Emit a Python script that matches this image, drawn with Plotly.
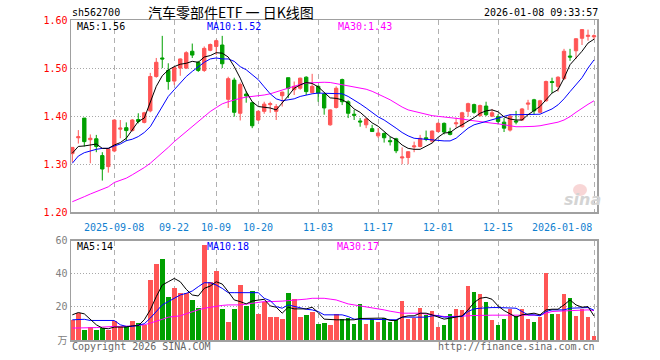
import plotly.graph_objects as go

# ---------------- data ----------------
tick_idx = [7, 17, 24, 31, 41, 51, 61, 71, 87]
tick_text = ["2025-09-08", "09-22", "10-09", "10-20", "11-03", "11-17", "12-01", "12-15", "2026-01-08"]

opens = [1.322, 1.355, 1.396, 1.351, 1.353, 1.318, 1.295, 1.3275, 1.373, 1.376,
         1.370, 1.393, 1.387, 1.411, 1.4825, 1.521, 1.495, 1.473, 1.500, 1.500,
         1.535, 1.512, 1.495, 1.537, 1.545, 1.548, 1.435, 1.475, 1.406, 1.446,
         1.428, 1.392, 1.410, 1.424, 1.410, 1.4425, 1.480, 1.455, 1.458, 1.481,
         1.449, 1.462, 1.446, 1.382, 1.418, 1.476, 1.430, 1.404, 1.390, 1.382,
         1.374, 1.359, 1.364, 1.349, 1.353, 1.313, 1.314, 1.336, 1.337, 1.355,
         1.348, 1.368, 1.385, 1.368, 1.384, 1.378, 1.410, 1.424, 1.401, 1.421,
         1.400, 1.399, 1.3875, 1.371, 1.390, 1.392, 1.425, 1.434, 1.408, 1.432,
         1.472, 1.462, 1.478, 1.525, 1.536, 1.562, 1.566, 1.565]
highs = [1.335, 1.371, 1.396, 1.362, 1.361, 1.325, 1.332, 1.392, 1.392, 1.387,
         1.394, 1.406, 1.409, 1.490, 1.521, 1.567, 1.510, 1.503, 1.520, 1.535,
         1.551, 1.515, 1.545, 1.551, 1.559, 1.567, 1.482, 1.480, 1.470, 1.452,
         1.430, 1.412, 1.430, 1.430, 1.425, 1.451, 1.480, 1.472, 1.480, 1.483,
         1.488, 1.464, 1.448, 1.414, 1.462, 1.478, 1.433, 1.413, 1.396, 1.396,
         1.382, 1.375, 1.366, 1.357, 1.355, 1.335, 1.327, 1.347, 1.361, 1.370,
         1.370, 1.387, 1.387, 1.376, 1.397, 1.409, 1.428, 1.426, 1.424, 1.430,
         1.415, 1.404, 1.396, 1.404, 1.411, 1.417, 1.434, 1.436, 1.434, 1.474,
         1.480, 1.483, 1.540, 1.540, 1.562, 1.581, 1.580, 1.570]
lows = [1.304, 1.343, 1.337, 1.302, 1.325, 1.266, 1.2825, 1.325, 1.354, 1.348,
        1.368, 1.385, 1.385, 1.408, 1.480, 1.500, 1.455, 1.465, 1.484, 1.498,
        1.521, 1.492, 1.492, 1.535, 1.527, 1.500, 1.417, 1.399, 1.391, 1.428,
        1.375, 1.390, 1.405, 1.407, 1.392, 1.420, 1.4375, 1.444, 1.455, 1.444,
        1.447, 1.430, 1.403, 1.380, 1.416, 1.423, 1.396, 1.392, 1.378, 1.375,
        1.367, 1.355, 1.345, 1.339, 1.323, 1.300, 1.300, 1.325, 1.335, 1.348,
        1.345, 1.366, 1.362, 1.360, 1.376, 1.376, 1.399, 1.405, 1.399, 1.400,
        1.398, 1.383, 1.367, 1.368, 1.383, 1.390, 1.413, 1.404, 1.406, 1.430,
        1.448, 1.451, 1.475, 1.515, 1.519, 1.548, 1.557, 1.560]
closes = [1.335, 1.357, 1.347, 1.354, 1.337, 1.290, 1.332, 1.392, 1.375, 1.370,
          1.392, 1.389, 1.407, 1.4825, 1.512, 1.519, 1.472, 1.501, 1.519, 1.532,
          1.527, 1.495, 1.541, 1.549, 1.557, 1.509, 1.478, 1.408, 1.466, 1.442,
          1.380, 1.410, 1.425, 1.426, 1.420, 1.450, 1.458, 1.462, 1.479, 1.451,
          1.462, 1.448, 1.417, 1.413, 1.458, 1.430, 1.406, 1.402, 1.388, 1.394,
          1.368, 1.365, 1.355, 1.347, 1.328, 1.315, 1.326, 1.338, 1.354, 1.352,
          1.369, 1.385, 1.367, 1.362, 1.386, 1.407, 1.426, 1.408, 1.422, 1.403,
          1.407, 1.389, 1.375, 1.400, 1.388, 1.415, 1.427, 1.411, 1.432, 1.472,
          1.470, 1.481, 1.535, 1.523, 1.561, 1.580, 1.568, 1.567]

ma5 = [1.323, 1.337, 1.338, 1.340, 1.342, 1.333, 1.333, 1.340, 1.345, 1.354,
       1.371, 1.389, 1.396, 1.427, 1.462, 1.484, 1.496, 1.503, 1.508, 1.510,
       1.514, 1.512, 1.523, 1.526, 1.532, 1.531, 1.523, 1.503, 1.479, 1.451,
       1.430, 1.420, 1.419, 1.417, 1.413, 1.427, 1.442, 1.458, 1.465, 1.470,
       1.468, 1.461, 1.450, 1.438, 1.437, 1.434, 1.427, 1.415, 1.408, 1.396,
       1.386, 1.379, 1.368, 1.3575, 1.351, 1.340, 1.333, 1.331, 1.331, 1.337,
       1.344, 1.356, 1.365, 1.366, 1.375, 1.382, 1.389, 1.397, 1.406, 1.411,
       1.413, 1.409, 1.3985, 1.394, 1.392, 1.392, 1.403, 1.411, 1.420, 1.434,
       1.448, 1.455, 1.479, 1.507, 1.521, 1.535, 1.552, 1.560]
ma10 = [1.302, 1.317, 1.324, 1.328, 1.331, 1.333, 1.333, 1.338, 1.342, 1.349,
        1.352, 1.3575, 1.366, 1.378, 1.399, 1.4215, 1.441, 1.455, 1.469, 1.4825,
        1.493, 1.503, 1.512, 1.519, 1.521, 1.519, 1.519, 1.514, 1.503, 1.4965,
        1.486, 1.476, 1.461, 1.4465, 1.436, 1.432, 1.434, 1.436, 1.441, 1.444,
        1.4465, 1.448, 1.448, 1.448, 1.4475, 1.4465, 1.441, 1.434, 1.4256, 1.417,
        1.407, 1.3985, 1.392, 1.384, 1.375, 1.366, 1.359, 1.354, 1.353, 1.351,
        1.351, 1.349, 1.3485, 1.3485, 1.354, 1.3646, 1.375, 1.382, 1.3854, 1.389,
        1.392, 1.396, 1.399, 1.403, 1.403, 1.403, 1.403, 1.403, 1.404, 1.4096,
        1.415, 1.4235, 1.436, 1.451, 1.4667, 1.480, 1.500, 1.517]
ma30 = [1.222, 1.228, 1.2325, 1.238, 1.243, 1.2485, 1.253, 1.262, 1.266, 1.271,
        1.278, 1.285, 1.293, 1.302, 1.3125, 1.323, 1.335, 1.347, 1.3575, 1.368,
        1.378, 1.389, 1.399, 1.4096, 1.4177, 1.4256, 1.430, 1.434, 1.437, 1.4396,
        1.441, 1.442, 1.444, 1.4465, 1.4506, 1.455, 1.459, 1.463, 1.466, 1.469,
        1.470, 1.471, 1.4705, 1.470, 1.4677, 1.465, 1.4635, 1.4617, 1.459, 1.456,
        1.4517, 1.4465, 1.440, 1.434, 1.4256, 1.419, 1.413, 1.410, 1.406, 1.404,
        1.401, 1.3996, 1.3985, 1.3975, 1.396, 1.394, 1.392, 1.390, 1.389, 1.3875,
        1.3854, 1.384, 1.382, 1.380, 1.378, 1.378, 1.378, 1.3788, 1.380, 1.382,
        1.3846, 1.3875, 1.392, 1.399, 1.408, 1.4167, 1.4246, 1.432]

volume = [12.2, 16.2, 6.2, 7.8, 5.8, 7.2, 6.2, 11.2, 7.8, 8.6,
          11.2, 10.2, 9.2, 36.2, 45.8, 48.8, 26.2, 31.6, 28.2, 28.2,
          24.2, 19.6, 57.2, 34.8, 41.6, 18.8, 10.6, 18.8, 33.2, 20.6,
          29.6, 15.8, 23.2, 13.8, 13.8, 12.8, 28.6, 24.6, 13.8, 15.2,
          17.2, 9.8, 10.2, 9.2, 15.6, 12.6, 13.2, 9.8, 21.8, 9.8,
          12.6, 10.6, 13.2, 10.6, 12.2, 23.6, 12.6, 13.0, 19.6, 15.2,
          17.6, 7.6, 9.2, 15.8, 18.8, 18.2, 32.6, 29.0, 27.8, 23.2,
          12.2, 9.2, 12.8, 18.8, 14.6, 18.8, 12.8, 11.0, 13.6, 40.6,
          16.0, 15.8, 27.8, 25.4, 14.6, 18.8, 13.6, 2.2]
vma5 = [15.2, 16.6, 15.8, 12.6, 9.2, 7.2, 6.8, 7.8, 7.8, 7.8,
        8.6, 8.6, 12.2, 18.2, 26.2, 33.2, 35.2, 37.2, 35.2, 30.6,
        27.2, 26.6, 31.2, 32.6, 35.2, 33.8, 29.2, 24.2, 23.2, 21.8,
        23.6, 24.2, 24.6, 20.6, 19.8, 16.2, 19.8, 18.8, 18.8, 18.8,
        19.8, 16.6, 12.6, 12.2, 12.2, 12.2, 12.2, 12.2, 13.0, 13.2,
        13.2, 13.2, 13.2, 11.8, 11.8, 13.8, 14.6, 14.6, 16.2, 16.2,
        15.2, 13.8, 12.6, 13.2, 13.8, 14.6, 18.2, 22.6, 25.2, 25.8,
        24.6, 20.6, 17.8, 15.8, 13.8, 15.2, 15.8, 16.2, 15.2, 18.2,
        18.6, 18.6, 21.2, 24.2, 21.2, 19.8, 20.2, 14.5]
vma10 = [12.2, 12.5, 12.5, 11.8, 11.8, 11.8, 12.2, 11.8, 9.2, 8.2,
         8.2, 8.8, 9.8, 13.2, 17.2, 21.2, 23.2, 25.2, 27.2, 28.2,
         29.6, 32.2, 34.6, 34.6, 33.2, 31.2, 28.6, 28.6, 28.6, 28.6,
         28.6, 28.6, 25.2, 23.8, 20.2, 19.2, 21.2, 20.2, 19.2, 18.6,
         18.2, 17.2, 15.2, 15.2, 15.2, 15.2, 14.2, 12.6, 12.6, 12.6,
         12.6, 12.6, 12.6, 12.6, 12.2, 13.8, 13.8, 13.8, 13.8, 13.8,
         14.6, 14.6, 13.8, 13.8, 13.8, 14.2, 17.2, 18.8, 19.2, 19.6,
         19.6, 19.6, 19.6, 19.6, 19.2, 17.2, 15.2, 15.2, 14.6, 17.2,
         18.2, 18.2, 18.2, 19.2, 19.2, 19.6, 19.6, 18.0]
vma30 = [7.2, 7.2, 7.2, 7.2, 7.5, 7.8, 8.2, 8.2, 8.2, 8.2,
         8.5, 8.9, 9.2, 10.2, 11.2, 12.5, 13.8, 14.2, 14.6, 15.9,
         17.2, 18.2, 19.2, 19.9, 20.6, 20.9, 21.2, 21.2, 21.2, 21.7,
         22.2, 22.7, 23.2, 23.2, 23.2, 23.5, 23.8, 24.0, 24.2, 24.7,
         25.2, 25.2, 25.2, 24.7, 24.2, 23.0, 21.8, 21.2, 20.6, 20.2,
         19.8, 19.0, 18.2, 17.4, 16.6, 16.2, 16.2, 16.2, 16.2, 15.7,
         15.2, 14.7, 14.2, 14.2, 14.2, 14.4, 14.6, 14.8, 15.0, 15.0,
         15.0, 15.0, 15.0, 15.0, 15.0, 15.0, 15.0, 15.0, 15.0, 16.2,
         17.2, 17.4, 17.6, 17.7, 17.8, 18.0, 18.2, 17.8]

price_ticks = [1.20, 1.30, 1.40, 1.50, 1.60]
vol_ticks = [0, 20, 40, 60]
vol_tick_text = ["万", "20", "40", "60"]

# ---------------- styling ----------------
RED = "#ff5555"
GREEN = "#00a000"
MONO = "DejaVu Sans Mono, Noto Sans CJK SC, monospace"
W, H = 660, 360
L, R, T, B = 71, 597, 20, 340


def px(xp):
    return (xp - L) / (R - L)


def py(yp):
    return (B - yp) / (B - T)


x = list(range(len(closes)))
vol_colors = [RED if c >= o else GREEN for o, c in zip(opens, closes)]

fig = go.Figure()
fig.add_trace(go.Candlestick(
    x=x, open=opens, high=highs, low=lows, close=closes,
    increasing=dict(line=dict(color=RED, width=1), fillcolor=RED),
    decreasing=dict(line=dict(color=GREEN, width=1), fillcolor=GREEN),
    whiskerwidth=0, xaxis="x", yaxis="y", showlegend=False, hoverinfo="skip"))
for vals, col in [(ma30, "#ff00ff"), (ma10, "#0000ff"), (ma5, "#000000")]:
    fig.add_trace(go.Scatter(x=x, y=vals, mode="lines", line=dict(color=col, width=1),
                             xaxis="x", yaxis="y", showlegend=False, hoverinfo="skip"))

fig.add_trace(go.Bar(x=x, y=volume, width=0.78,
                     marker=dict(color=vol_colors, line=dict(width=0)),
                     xaxis="x2", yaxis="y2", showlegend=False, hoverinfo="skip"))
for vals, col in [(vma30, "#ff00ff"), (vma10, "#0000ff"), (vma5, "#000000")]:
    fig.add_trace(go.Scatter(x=x, y=vals, mode="lines", line=dict(color=col, width=1),
                             xaxis="x2", yaxis="y2", showlegend=False, hoverinfo="skip"))

xcommon = dict(range=[-0.22, 87.5], tickvals=tick_idx, showticklabels=False, ticks="",
               showgrid=True, gridcolor="#b0b0b0", griddash="5px,4px", gridwidth=1,
               showline=True, mirror=True, linecolor="#a0a0a0", linewidth=1.5,
               zeroline=False, fixedrange=True)
ycommon = dict(showgrid=True, gridcolor="#a8a8a8", griddash="1px,2px", gridwidth=1,
               showline=True, mirror=True, linecolor="#a0a0a0", linewidth=1.5,
               zeroline=False, ticks="", fixedrange=True)

fig.update_layout(
    width=W, height=H,
    margin=dict(l=L, r=W - R, t=T, b=H - B, pad=0),
    paper_bgcolor="white", plot_bgcolor="white",
    boxgap=0.2, bargap=0, showlegend=False,
    xaxis=dict(domain=[0, 1], anchor="y", rangeslider=dict(visible=False), **xcommon),
    xaxis2=dict(domain=[0, 1], anchor="y2", matches="x", **xcommon),
    yaxis=dict(domain=[py(212.3), 1.0], range=[1.2, 1.6], tickvals=price_ticks,
               ticktext=["%.2f" % v for v in price_ticks],
               tickfont=dict(family=MONO, size=10, color="#ff0000"), **ycommon),
    yaxis2=dict(domain=[0, py(240.7)], range=[0, 60], tickvals=vol_ticks,
                ticktext=vol_tick_text,
                tickfont=dict(family=MONO, size=10, color="#808080"), **ycommon),
)

ann = []


def text(t, xp, yp, color="#000000", size=10, anchor="left", family=MONO):
    ann.append(dict(text=t, x=px(xp), y=py(yp), xref="paper", yref="paper",
                    xanchor=anchor, yanchor="middle", showarrow=False,
                    font=dict(family=family, size=size, color=color)))


text("sh562700", 70, 12)
text("汽车零部件ETF 一 日K线图", 231, 12, size=14, anchor="center",
     family="Noto Sans CJK SC, sans-serif")
text("2026-01-08 09:33:57", 600, 12, anchor="right")
text("MA5:1.56", 75, 26)
text("MA10:1.52", 205, 26, color="#0000ff")
text("MA30:1.43", 336, 26, color="#ff00ff")
text("MA5:14", 75, 246.5)
text("MA10:18", 205, 246.5, color="#0000ff")
text("MA30:17", 335, 246.5, color="#ff00ff")
text("Copyright 2026 SINA.COM", 70, 346, color="#666666")
text("http://finance.sina.com.cn", 597, 346, color="#666666", anchor="right")

for i, (ti, tt) in enumerate(zip(tick_idx, tick_text)):
    ann.append(dict(text=tt, x=ti, y=py(227.5), xref="x", yref="paper",
                    xanchor="right" if i == len(tick_idx) - 1 else "center",
                    yanchor="middle", showarrow=False,
                    font=dict(family=MONO, size=10, color="#1080d0")))

# sina watermark
ann.append(dict(text="<b><i>sina</i></b>", x=px(582), y=py(199), xref="paper", yref="paper",
                xanchor="center", yanchor="middle", showarrow=False,
                font=dict(family="DejaVu Sans, sans-serif", size=16, color="#d4d4d4")))
fig.update_layout(annotations=ann)
fig.add_shape(type="circle", xref="paper", yref="paper",
              x0=px(573), x1=px(587), y0=py(196), y1=py(184),
              fillcolor="#f5c4c4", line=dict(width=0), opacity=0.7, layer="below")

fig.write_html("out.html", config={"displayModeBar": False, "staticPlot": True},
               post_script="document.body.style.margin='0';document.body.style.overflow='hidden';")
